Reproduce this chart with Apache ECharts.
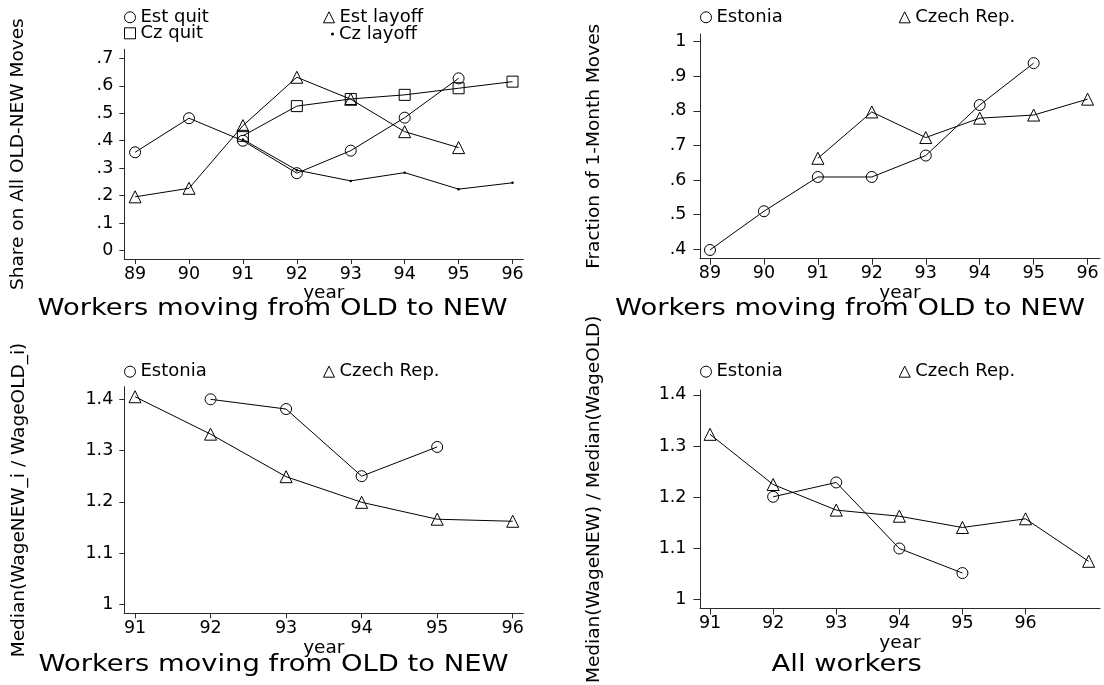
<!DOCTYPE html>
<html>
<head>
<meta charset="utf-8">
<script src="https://cdn.jsdelivr.net/npm/echarts@6/dist/echarts.min.js"></script>
<style>
  html, body { margin: 0; padding: 0; background: #fff; }
  #chart { width: 1104px; height: 685px; }
</style>
</head>
<body>
<div id="chart"></div>
<script>
// ---- Panel A: share of quits / layoffs among all OLD-NEW moves ----
const estYearsA = [89, 90, 91, 92, 93, 94, 95];
const estQuit   = [0.358, 0.482, 0.400, 0.282, 0.364, 0.484, 0.627];
const estLayoff = [0.196, 0.227, 0.455, 0.631, 0.551, 0.433, 0.375];
const czYearsA  = [91, 92, 93, 94, 95, 96];
const czQuit    = [0.418, 0.526, 0.552, 0.567, 0.591, 0.615];
const czLayoff  = [0.405, 0.293, 0.254, 0.284, 0.224, 0.247];

// ---- Panel B: fraction of 1-month moves ----
const estYearsB = [89, 90, 91, 92, 93, 94, 95];
const estFrac   = [0.398, 0.510, 0.609, 0.609, 0.671, 0.817, 0.938];
const czYearsB  = [91, 92, 93, 94, 95, 96];
const czFrac    = [0.663, 0.797, 0.723, 0.779, 0.788, 0.834];

// ---- Panel C: median individual wage ratio, movers OLD -> NEW ----
const estYearsC = [92, 93, 94, 95];
const estMover  = [1.400, 1.381, 1.250, 1.307];
const czYearsC  = [91, 92, 93, 94, 95, 96];
const czMover   = [1.405, 1.332, 1.249, 1.199, 1.166, 1.162];

// ---- Panel D: ratio of medians, all workers ----
const estYearsD = [92, 93, 94, 95];
const estAll    = [1.201, 1.229, 1.100, 1.052];
const czYearsD  = [91, 92, 93, 94, 95, 96, 97];
const czAll     = [1.323, 1.225, 1.175, 1.163, 1.141, 1.158, 1.075];

// ---- Tick values ----
const xTicks89 = [89, 90, 91, 92, 93, 94, 95, 96];
const xTicks91 = [91, 92, 93, 94, 95, 96];
const yTicksA  = [0, 0.1, 0.2, 0.3, 0.4, 0.5, 0.6, 0.7];
const yTicksB  = [0.4, 0.5, 0.6, 0.7, 0.8, 0.9, 1];
const yTicksCD = [1, 1.1, 1.2, 1.3, 1.4];

const FONT = '"DejaVu Sans", sans-serif';
const AXIS_COLOR = '#2a2a2a';

// Decimal labels without a leading zero: .7, .4, 1.3, 0
function fmtTick(v) {
  const s = String(Math.round(v * 10) / 10);
  return s.replace(/^0\./, '.');
}

function pairs(xs, ys) { return xs.map((x, i) => [x, ys[i]]); }

function xAxis(gridIndex, min, max, ticks, tickLen) {
  return {
    type: 'value', gridIndex, min, max,
    name: 'year', nameLocation: 'middle', nameGap: 17,
    nameTextStyle: { fontFamily: FONT, fontSize: 18.5, color: '#000' },
    axisLine: { onZero: false, lineStyle: { color: AXIS_COLOR, width: 1 } },
    axisTick: { length: tickLen, customValues: ticks, lineStyle: { color: AXIS_COLOR, width: 1 } },
    axisLabel: { customValues: ticks, margin: 6, fontFamily: FONT, fontSize: 17.5, color: '#000',
                 formatter: v => String(v) },
    splitLine: { show: false }
  };
}

function yAxis(gridIndex, min, max, ticks, title, tickLen, labelMargin, nameGap) {
  return {
    type: 'value', gridIndex, min, max,
    name: title, nameLocation: 'middle', nameRotate: 90, nameGap,
    nameTextStyle: { fontFamily: FONT, fontSize: 18.5, color: '#000' },
    axisLine: { show: true, lineStyle: { color: AXIS_COLOR, width: 1 } },
    axisTick: { show: true, length: tickLen, customValues: ticks, lineStyle: { color: AXIS_COLOR, width: 1 } },
    axisLabel: { customValues: ticks, margin: labelMargin, fontFamily: FONT, fontSize: 17.5, color: '#000',
                 formatter: fmtTick },
    splitLine: { show: false }
  };
}

const hollow = { color: 'rgba(0,0,0,0)', borderColor: '#000', borderWidth: 1 };

function line(name, idx, data, symbol, size) {
  const dot = symbol === 'dot';
  return {
    type: 'line', name, xAxisIndex: idx, yAxisIndex: idx, data,
    symbol: dot ? 'circle' : symbol, symbolSize: size, showSymbol: true,
    lineStyle: { color: '#000', width: 1 },
    itemStyle: dot ? { color: '#000' } : hollow,
    emphasis: { disabled: true },
    animation: false, z: 3
  };
}

function legendItem(name, left, rowCenter, icon) {
  const isDot = icon === 'dot';
  return {
    data: [name], left, top: rowCenter - 9, padding: 0,
    icon: isDot ? 'circle' : icon,
    itemWidth: isDot ? 3 : 11, itemHeight: isDot ? 3 : 11, itemGap: 0,
    itemStyle: isDot ? { color: '#000', borderWidth: 0 } : hollow,
    textStyle: { fontFamily: FONT, fontSize: 18, color: '#000' },
    selectedMode: false
  };
}

function subtitle(text, cx, cy) {
  return {
    type: 'text', x: cx, y: cy, scaleX: 1.19,
    style: { text, font: '23px ' + FONT, fill: '#000', align: 'center', verticalAlign: 'middle' }
  };
}

const chart = echarts.init(document.getElementById('chart'), null, { renderer: 'canvas' });

const circ = 'circle', tri = 'triangle', sq = 'rect';

chart.setOption({
  backgroundColor: '#fff',
  animation: false,
  grid: [
    { left: 124.3, top: 49.3, width: 399, height: 209.7 },
    { left: 700,   top: 34,   width: 400, height: 224.7 },
    { left: 124.3, top: 386.7, width: 399, height: 226.6 },
    { left: 700,   top: 390,  width: 400, height: 223.3 }
  ],
  xAxis: [
    xAxis(0, 88.80, 96.20, xTicks89, 5),
    xAxis(1, 88.815, 96.23, xTicks89, 6),
    xAxis(2, 90.858, 96.14, xTicks91, 5),
    xAxis(3, 90.841, 97.18, xTicks91, 6)
  ],
  yAxis: [
    yAxis(0, -0.0302, 0.7327, yTicksA, 'Share on All OLD-NEW Moves', 5, 11, 97),
    yAxis(1, 0.3728, 1.0223, yTicksB, 'Fraction of 1-Month Moves', 6.5, 13.5, 96),
    yAxis(2, 0.9824, 1.4246, yTicksCD, 'Median(WageNEW_i / WageOLD_i)', 5, 11, 96),
    yAxis(3, 0.9828, 1.4096, yTicksCD, 'Median(WageNEW) / Median(WageOLD)', 6.5, 13.5, 96)
  ],
  legend: [
    legendItem('Est quit',   124,   17.3, circ),
    legendItem('Est layoff', 323,   17.3, tri),
    legendItem('Cz quit',    124,   33.3, sq),
    legendItem('Cz layoff',  331,   34,   'dot'),
    legendItem('Estonia',    700,   17.3, circ),
    legendItem('Czech Rep.', 898.7, 17.3, tri),
    legendItem('Estonia',    124,   371.7, circ),
    legendItem('Czech Rep.', 323,   371.7, tri),
    legendItem('Estonia',    700,   371.7, circ),
    legendItem('Czech Rep.', 898.7, 371.7, tri)
  ],
  graphic: [
    subtitle('Workers moving from OLD to NEW', 272.5, 309),
    subtitle('Workers moving from OLD to NEW', 850, 309),
    subtitle('Workers moving from OLD to NEW', 273.5, 665.5),
    subtitle('All workers', 846.7, 665.5)
  ],
  series: [
    line('Est quit',   0, pairs(estYearsA, estQuit),   circ, 11),
    line('Est layoff', 0, pairs(estYearsA, estLayoff), tri, 12),
    line('Cz quit',    0, pairs(czYearsA, czQuit),     sq, 11),
    line('Cz layoff',  0, pairs(czYearsA, czLayoff),   'dot', 2.5),
    line('Estonia',    1, pairs(estYearsB, estFrac),   circ, 11),
    line('Czech Rep.', 1, pairs(czYearsB, czFrac),     tri, 12),
    line('Estonia',    2, pairs(estYearsC, estMover),  circ, 11),
    line('Czech Rep.', 2, pairs(czYearsC, czMover),    tri, 12),
    line('Estonia',    3, pairs(estYearsD, estAll),    circ, 11),
    line('Czech Rep.', 3, pairs(czYearsD, czAll),      tri, 12)
  ]
});
</script>
</body>
</html>
